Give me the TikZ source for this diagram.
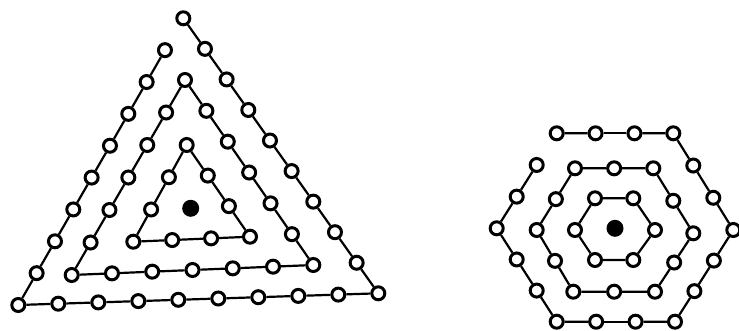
\documentclass[tikz,border=0pt]{standalone}
\usetikzlibrary{calc}
\tikzset{
  ring/.style={circle, draw=black, fill=white, line width=3pt, minimum size=13pt, inner sep=0pt},
  core/.style={circle, fill=black, minimum size=17pt, inner sep=0pt},
  link/.style={draw=black, line width=2.2pt}
}
\begin{document}
\begin{tikzpicture}[x=1pt,y=-1pt]
\useasboundingbox (0,0) rectangle (739,330);
% ---------- triangle spiral ----------
\coordinate (TA) at (183.3,18.3);
\coordinate (TB) at (378.3,293.3);
\coordinate (TC) at (18.3,305);
\coordinate (SA) at (185,80);
\coordinate (SB) at (313.3,265);
\coordinate (SC) at (71.7,275);
\coordinate (IA) at (186.7,145);
\coordinate (IB) at (250,236.7);
\coordinate (IC) at (133.3,241.7);
% outer triangle nodes a0..a26
\foreach \j in {0,...,8}{
  \pgfmathtruncatemacro\kb{9+\j}
  \pgfmathtruncatemacro\kc{18+\j}
  \node[ring] (a\j) at ($(TA)!\j/9!(TB)$) {};
  \node[ring] (a\kb) at ($(TB)!\j/9!(TC)$) {};
  \node[ring] (a\kc) at ($(TC)!\j/9!(TA)$) {};
}
\foreach \k in {0,...,25}{
  \pgfmathtruncatemacro\n{\k+1}
  \draw[link] (a\k) -- (a\n);
}
% middle triangle nodes b0..b17
\foreach \j in {0,...,5}{
  \pgfmathtruncatemacro\kb{6+\j}
  \pgfmathtruncatemacro\kc{12+\j}
  \node[ring] (b\j) at ($(SA)!\j/6!(SB)$) {};
  \node[ring] (b\kb) at ($(SB)!\j/6!(SC)$) {};
  \node[ring] (b\kc) at ($(SC)!\j/6!(SA)$) {};
}
\foreach \k in {0,...,16}{
  \pgfmathtruncatemacro\n{\k+1}
  \draw[link] (b\k) -- (b\n);
}
\draw[link] (b17) -- (b0);
% inner triangle nodes c0..c8
\foreach \j in {0,...,2}{
  \pgfmathtruncatemacro\kb{3+\j}
  \pgfmathtruncatemacro\kc{6+\j}
  \node[ring] (c\j) at ($(IA)!\j/3!(IB)$) {};
  \node[ring] (c\kb) at ($(IB)!\j/3!(IC)$) {};
  \node[ring] (c\kc) at ($(IC)!\j/3!(IA)$) {};
}
\foreach \k in {0,...,7}{
  \pgfmathtruncatemacro\n{\k+1}
  \draw[link] (c\k) -- (c\n);
}
\draw[link] (c8) -- (c0);
\node[core] (tdot) at (190.7,208.3) {};
% ---------- hexagon spiral ----------
\coordinate (H0) at (556.7,133.3);
\coordinate (H1) at (673.3,133.3);
\coordinate (H2) at (733.3,230);
\coordinate (H3) at (675,321.7);
\coordinate (H4) at (556.7,321.7);
\coordinate (H5) at (496.7,228.3);
\coordinate (M0) at (575,168.3);
\coordinate (M1) at (653.3,168.3);
\coordinate (M2) at (693.3,233.3);
\coordinate (M3) at (655,291.7);
\coordinate (M4) at (573.3,291.7);
\coordinate (M5) at (536.7,230);
% outer hexagon nodes h0..h17 (open at top-left)
\foreach \e/\f in {0/1,1/2,2/3,3/4,4/5,5/0}{
  \foreach \j in {0,1,2}{
    \pgfmathtruncatemacro\k{3*\e+\j}
    \node[ring] (h\k) at ($(H\e)!\j/3!(H\f)$) {};
  }
}
\foreach \k in {0,...,16}{
  \pgfmathtruncatemacro\n{\k+1}
  \draw[link] (h\k) -- (h\n);
}
% middle hexagon nodes m0..m11
\foreach \e/\f in {0/1,1/2,2/3,3/4,4/5,5/0}{
  \foreach \j in {0,1}{
    \pgfmathtruncatemacro\k{2*\e+\j}
    \node[ring] (m\k) at ($(M\e)!\j/2!(M\f)$) {};
  }
}
\foreach \k in {0,...,10}{
  \pgfmathtruncatemacro\n{\k+1}
  \draw[link] (m\k) -- (m\n);
}
\draw[link] (m11) -- (m0);
% inner hexagon nodes n0..n5
\node[ring] (n0) at (595,198.3) {};
\node[ring] (n1) at (633.3,198.3) {};
\node[ring] (n2) at (655,230) {};
\node[ring] (n3) at (633.3,260) {};
\node[ring] (n4) at (595,260) {};
\node[ring] (n5) at (575,230) {};
\draw[link] (n0) -- (n1) -- (n2) -- (n3) -- (n4) -- (n5) -- (n0);
\node[core] (hdot) at (615,228.3) {};
\end{tikzpicture}
\end{document}
